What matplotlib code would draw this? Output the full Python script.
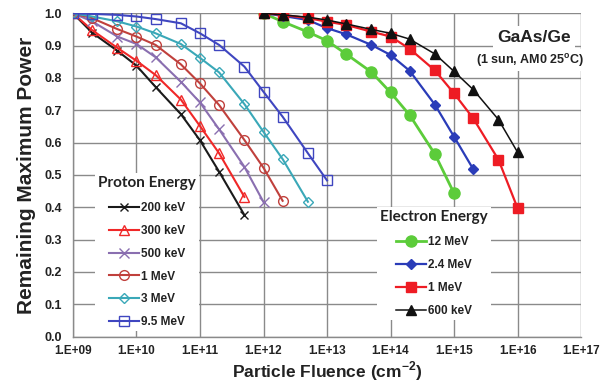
import matplotlib
matplotlib.use("Agg")
import matplotlib.pyplot as plt

# ---------------- data ----------------
proton_fluence = [1e9, 2e9, 5e9, 1e10, 2e10, 5e10, 1e11, 2e11, 5e11, 1e12, 2e12, 5e12, 1e13]
p_200keV = [1.0, 0.94, 0.884, 0.838, 0.772, 0.688, 0.607, 0.51, 0.376]
p_300keV = [1.0, 0.948, 0.893, 0.853, 0.809, 0.733, 0.651, 0.567, 0.432]
p_500keV = [1.0, 0.975, 0.928, 0.905, 0.864, 0.788, 0.724, 0.641, 0.525, 0.416]
p_1MeV = [1.0, 0.985, 0.951, 0.928, 0.902, 0.842, 0.783, 0.716, 0.608, 0.522, 0.42]
p_3MeV = [1.0, 0.99, 0.975, 0.959, 0.938, 0.905, 0.862, 0.817, 0.719, 0.633, 0.549, 0.417]
p_9_5MeV = [1.0, 0.998, 0.995, 0.99, 0.982, 0.969, 0.938, 0.902, 0.835, 0.757, 0.68, 0.567, 0.483]

electron_fluence = [1e12, 2e12, 5e12, 1e13, 2e13, 5e13, 1e14, 2e14, 5e14, 1e15, 2e15, 5e15, 1e16]
e_12MeV = [1.0, 0.974, 0.942, 0.915, 0.874, 0.818, 0.755, 0.685, 0.564, 0.443]
e_2_4MeV = [1.0, 0.992, 0.979, 0.954, 0.935, 0.902, 0.871, 0.822, 0.717, 0.618, 0.518]
e_1MeV = [1.0, 0.995, 0.985, 0.974, 0.964, 0.943, 0.928, 0.89, 0.823, 0.752, 0.675, 0.547, 0.397]
e_600keV = [1.0, 0.995, 0.988, 0.979, 0.967, 0.95, 0.938, 0.92, 0.874, 0.82, 0.764, 0.671, 0.57]

proton_labels = ["200 keV", "300 keV", "500 keV", "1 MeV", "3 MeV", "9.5 MeV"]
electron_labels = ["12 MeV", "2.4 MeV", "1 MeV", "600 keV"]
x_ticks = [1e9, 1e10, 1e11, 1e12, 1e13, 1e14, 1e15, 1e16, 1e17]
x_tick_labels = ["1.E+09", "1.E+10", "1.E+11", "1.E+12", "1.E+13", "1.E+14", "1.E+15", "1.E+16", "1.E+17"]
y_ticks = [0.0, 0.1, 0.2, 0.3, 0.4, 0.5, 0.6, 0.7, 0.8, 0.9, 1.0]

# ---------------- figure ----------------
plt.rcParams['font.family'] = ['Liberation Sans', 'DejaVu Sans']
plt.rcParams['mathtext.fontset'] = 'custom'
plt.rcParams['mathtext.rm'] = 'Liberation Sans'
plt.rcParams['mathtext.bf'] = 'Liberation Sans:bold'
fig = plt.figure(figsize=(6.13, 3.90), dpi=100)
ax = fig.add_axes([0.119, 0.137, 0.829, 0.829])

ax.set_xscale('log')
ax.set_xlim(1e9, 1e17)
ax.set_ylim(0.0, 1.0)
ax.grid(True, which='major', color='#8a8a8a', lw=1.0, zorder=0)
ax.minorticks_off()
ax.set_axisbelow(True)
for s in ['top', 'right']:
    ax.spines[s].set_visible(False)
for s in ['left', 'bottom']:
    ax.spines[s].set_color('#8a8a8a')
    ax.spines[s].set_linewidth(1.0)

ax.set_xticks(x_ticks)
ax.set_xticklabels(x_tick_labels, fontsize=8.5, fontweight='bold', color='#222222')
ax.set_yticks(y_ticks)
ax.set_yticklabels([f"{v:.1f}" for v in y_ticks], fontsize=9, fontweight='bold', color='#222222')
ax.tick_params(axis='both', length=0, pad=6)
ax.tick_params(axis='y', pad=8)

ax.set_xlabel("Particle Fluence (cm$^{\\mathbf{-2}}$)", fontsize=12.5, fontweight='bold', color='#222222', labelpad=2)
ax.set_ylabel("Remaining Maximum Power", fontsize=15, fontweight='bold', color='#222222', labelpad=6)

# proton series (hollow markers)
proton_series = [p_200keV, p_300keV, p_500keV, p_1MeV, p_3MeV, p_9_5MeV]
proton_colors = ['#1a1a1a', '#f02828', '#8a6fb0', '#c0403c', '#3aa8b8', '#3f46c0']
proton_markers = ['x', '^', 'x', 'o', 'D', 's']
proton_msize = [6, 6.5, 7, 7, 5, 7]
proton_handles = []
for vals, c, m, ms, lab in zip(proton_series, proton_colors, proton_markers, proton_msize, proton_labels):
    ln, = ax.plot(proton_fluence[:len(vals)], vals, color=c, lw=1.5, marker=m, ms=ms,
                  mfc='none', mec=c, mew=1.0, zorder=3, label=lab)
    proton_handles.append(ln)

# electron series (filled markers)
electron_series = [e_12MeV, e_2_4MeV, e_1MeV, e_600keV]
electron_colors = ['#5ccc3a', '#2a3cb8', '#ee1c24', '#111111']
electron_markers = ['o', 'D', 's', '^']
electron_msize = [8, 5.5, 7.5, 7]
electron_lw = [2.0, 1.6, 1.6, 1.1]
electron_handles = []
for vals, c, m, ms, lw, lab in zip(electron_series, electron_colors, electron_markers,
                                    electron_msize, electron_lw, electron_labels):
    ln, = ax.plot(electron_fluence[:len(vals)], vals, color=c, lw=lw, marker=m, ms=ms,
                  mfc=c, mec=c, zorder=4, label=lab)
    electron_handles.append(ln)

def make_legend(handles, labels, title, center):
    leg = ax.legend(handles, labels, title=title, loc='center',
                    bbox_to_anchor=center, bbox_transform=fig.transFigure,
                    frameon=True, facecolor='white', edgecolor='none', framealpha=1.0,
                    fancybox=False, fontsize=8.5, handlelength=2.6, handletextpad=0.15,
                    labelspacing=0.92, borderpad=0.25)
    for t in leg.get_texts():
        t.set_fontweight('bold')
        t.set_color('#222222')
    tt = leg.get_title()
    tt.set_fontfamily(['Lato', 'DejaVu Sans'])
    tt.set_fontweight('bold')
    tt.set_fontsize(11)
    tt.set_color('#222222')
    leg._legend_box.sep = 9
    leg.set_zorder(5)
    return leg

leg1 = make_legend(proton_handles, proton_labels, "Proton Energy", (0.240, 0.354))
ax.add_artist(leg1)
leg2 = make_legend(electron_handles, electron_labels, "Electron Energy", (0.708, 0.325))

# annotation
ax.text(0.871, 0.903, "GaAs/Ge", transform=fig.transFigure, ha='center', va='center',
        fontsize=12.5, fontweight='bold', color='#222222',
        bbox=dict(facecolor='white', edgecolor='none', pad=3), zorder=6)
ax.text(0.865, 0.846, "(1 sun, AM0 25$^{\\mathbf{o}}$C)", transform=fig.transFigure,
        ha='center', va='center', fontsize=9, fontweight='bold', color='#222222',
        bbox=dict(facecolor='white', edgecolor='none', pad=2), zorder=6)

fig.savefig("out.png", dpi=100)
